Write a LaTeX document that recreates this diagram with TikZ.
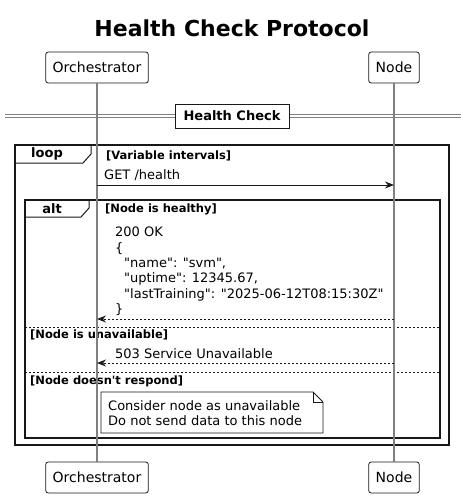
\documentclass[tikz,border=0pt]{standalone}
\usepackage{fontspec}
\setmainfont{DejaVu Sans}[Ligatures=TeXOff]
\usetikzlibrary{arrows.meta, positioning}
\definecolor{ink}{HTML}{181818}
\definecolor{lifegray}{HTML}{808080}

\begin{document}
\begin{tikzpicture}[
  x=1pt, y=-1pt,
  actor/.style={draw=ink, fill=white, line width=0.8pt, rounded corners=2.5pt, minimum height=31pt, inner xsep=7pt, font=\fontsize{14}{16}\selectfont},
  life/.style={draw=lifegray, line width=1.2pt},
  msg/.style={-{Stealth[length=9pt, width=7pt]}, line width=1pt, color=ink},
  reply/.style={msg, dash pattern=on 2pt off 2pt},
  frame/.style={draw=ink, line width=1.5pt},
  tab/.style={draw=ink, line width=1pt},
  split/.style={draw=ink, line width=1pt, dash pattern=on 2pt off 2pt},
  tag/.style={inner sep=0pt, font=\bfseries\fontsize{13}{15}\selectfont},
  guard/.style={anchor=west, inner sep=0pt, font=\bfseries\fontsize{11.5}{13}\selectfont},
  label/.style={anchor=west, inner sep=0pt, font=\fontsize{13}{15.3}\selectfont}
]
  \useasboundingbox (0,0) rectangle (466,498);

  \node[font=\bfseries\fontsize{22}{26}\selectfont] (title) at (232,28) {Health Check Protocol};

  \node[actor] (orch) at (97,67.5) {Orchestrator};
  \node[actor] (node) at (394,67.5) {Node};
  \node[actor] (orchB) at (97,477.5) {Orchestrator};
  \node[actor] (nodeB) at (394,477.5) {Node};

  \draw[frame] (15,145) rectangle (449,445);
  \draw[tab] (15,163) -- (83,163) -- (91,154) -- (91,145);
  \node[tag] (loop) at (47,154) {loop};
  \node[guard] (intervals) at (106,156) {[Variable intervals]};

  \draw[frame] (25,200) rectangle (440,438);
  \draw[tab] (25,217) -- (81,217) -- (89,208) -- (89,200);
  \node[tag] (alt) at (52,209) {alt};
  \node[guard] (healthy) at (105,209) {[Node is healthy]};

  \draw[split] (25,327.5) -- (440,327.5);
  \node[guard] (unavail) at (30,335) {[Node is unavailable]};
  \draw[split] (25,372.5) -- (440,372.5);
  \node[guard] (silent) at (30,381) {[Node doesn't respond]};

  \draw[life] (orch) -- (orchB);
  \draw[life] (node) -- (nodeB);

  \draw[lifegray, line width=0.8pt] (5,114) -- (461,114) (5,117.5) -- (461,117.5);
  \node[draw=ink, fill=white, line width=0.8pt, minimum width=114pt, minimum height=24pt, font=\bfseries\fontsize{13}{15}\selectfont] (check) at (232,116) {Health Check};

  \coordinate (get1) at (97,185);
  \coordinate (get2) at (394,185);
  \draw[msg] (get1) -- (get2);
  \node[label] (getl) at (104,175) {GET /health};

  \node[label, anchor=north west, align=left] (okl) at (115,227) {200 OK\\\{\\\hspace*{9pt}"name": "svm",\\\hspace*{9pt}"uptime": 12345.67,\\\hspace*{9pt}"lastTraining": "2025-06-12T08:15:30Z"\\\}};
  \coordinate (ok1) at (97,319);
  \coordinate (ok2) at (394,319);
  \draw[reply] (ok2) -- (ok1);

  \node[label] (errl) at (115,354) {503 Service Unavailable};
  \coordinate (err1) at (97,363);
  \coordinate (err2) at (394,363);
  \draw[reply] (err2) -- (err1);

  \draw[draw=ink, fill=white, line width=0.8pt] (101,392) -- (313,392) -- (323,402) -- (323,433) -- (101,433) -- cycle;
  \draw[draw=ink, line width=0.8pt] (313,392) -- (313,402) -- (323,402);
  \node[label, anchor=north west, align=left] (note) at (108,400.5) {Consider node as unavailable\\Do not send data to this node};
\end{tikzpicture}
\end{document}
